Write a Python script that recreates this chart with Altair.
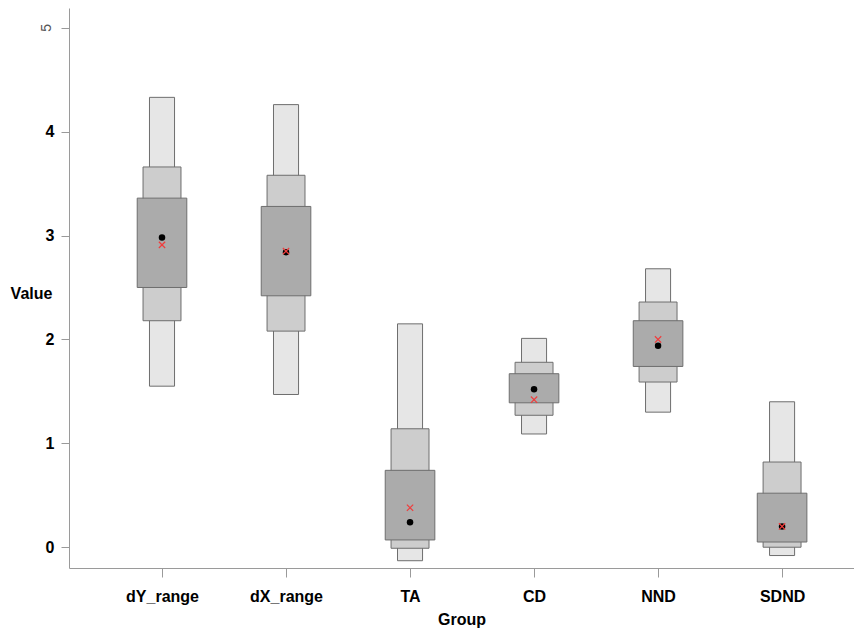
import altair as alt
import pandas as pd

groups = ["dY_range", "dX_range", "TA", "CD", "NND", "SDND"]
outer_lo = [1.55, 1.47, -0.13, 1.09, 1.30, -0.08]
outer_hi = [4.33, 4.26, 2.15, 2.01, 2.68, 1.40]
mid_lo = [2.18, 2.08, -0.01, 1.27, 1.59, 0.00]
mid_hi = [3.66, 3.58, 1.14, 1.78, 2.36, 0.82]
inner_lo = [2.50, 2.42, 0.07, 1.39, 1.74, 0.05]
inner_hi = [3.36, 3.28, 0.74, 1.67, 2.18, 0.52]
medians = [2.98, 2.84, 0.24, 1.52, 1.94, 0.20]
means = [2.91, 2.85, 0.38, 1.42, 2.00, 0.20]
y_ticks = [0, 1, 2, 3, 4, 5]

rows = []
for level, los, his in [("outer", outer_lo, outer_hi), ("middle", mid_lo, mid_hi), ("inner", inner_lo, inner_hi)]:
    for i, g in enumerate(groups):
        rows.append({"group": g, "idx": i, "level": level, "lo": los[i], "hi": his[i]})
rect_df = pd.DataFrame(rows)
pt_df = pd.DataFrame({"group": groups, "idx": list(range(len(groups))), "median": medians, "mean": means})
five_df = pd.DataFrame({"v": [y_ticks[-1]]})

FONT = "Liberation Sans"
AXC = "#9a9a9a"
label_expr = "[" + ",".join("'%s'" % g for g in groups) + "][datum.value]"

xscale = alt.Scale(domain=[-0.75, 5.58], nice=False, zero=False)
yscale = alt.Scale(domain=[-0.2, 5.19], nice=False, zero=False)

xaxis = alt.Axis(values=list(range(len(groups))), labelExpr=label_expr, title="Group",
                 tickSize=9, labelPadding=11, labelFontSize=16, labelFontWeight="bold",
                 labelFont=FONT, titleFont=FONT, titleFontSize=16, titleFontWeight="bold",
                 titlePadding=7, grid=False, domainColor=AXC, tickColor=AXC,
                 labelColor="black", titleColor="black", labelFlush=False, labelOverlap=False)
yaxis = alt.Axis(values=y_ticks, title="Value", titleAngle=0, titleAlign="center",
                 titleBaseline="middle", titleX=-38, titleY=285, titleFontSize=16,
                 titleFontWeight="bold", titleFont=FONT, labelFont=FONT, labelFontSize=16,
                 labelFontWeight="bold", labelExpr="datum.value == 5 ? '' : datum.label",
                 tickSize=8, labelPadding=7, grid=False, domainColor=AXC, tickColor=AXC,
                 labelColor="black", titleColor="black")

rects = alt.Chart(rect_df).transform_calculate(
    hw="datum.level == 'outer' ? 0.101 : (datum.level == 'middle' ? 0.153 : 0.2)"
).transform_calculate(
    x1="datum.idx - datum.hw", x2="datum.idx + datum.hw"
).mark_rect(stroke="#6e6e6e", strokeWidth=1).encode(
    x=alt.X("x1:Q", scale=xscale, axis=xaxis),
    x2="x2:Q",
    y=alt.Y("lo:Q", scale=yscale, axis=yaxis),
    y2="hi:Q",
    color=alt.Color("level:N", scale=alt.Scale(domain=["outer", "middle", "inner"],
                                                range=["#e6e6e6", "#cdcdcd", "#ababab"]), legend=None),
    order=alt.Order("idx:Q"),
)

dots = alt.Chart(pt_df).mark_circle(size=42, color="black", opacity=1).encode(
    x=alt.X("idx:Q", scale=xscale, axis=xaxis),
    y=alt.Y("median:Q", scale=yscale, axis=yaxis),
)

crosses = alt.Chart(pt_df).mark_point(shape="M-1,-1L1,1M-1,1L1,-1", size=40, color="#f03c3c",
                                      strokeWidth=1.2, filled=False, opacity=1).encode(
    x=alt.X("idx:Q", scale=xscale, axis=xaxis),
    y=alt.Y("mean:Q", scale=yscale, axis=yaxis),
)

five = alt.Chart(five_df).mark_text(angle=270, fontSize=14, color="#555555", font=FONT,
                                    align="center", baseline="middle").encode(
    x=alt.value(-22),
    y=alt.Y("v:Q", scale=yscale, axis=yaxis),
    text=alt.Text("v:Q"),
)

chart = alt.layer(rects, dots, crosses, five).properties(
    width=785, height=560,
    autosize=alt.AutoSizeParams(type="none"),
    padding={"left": 61, "top": 0, "right": 0, "bottom": 62},
).configure_view(stroke=None)

chart.save("out.html", embed_options={"renderer": "svg", "actions": False})
